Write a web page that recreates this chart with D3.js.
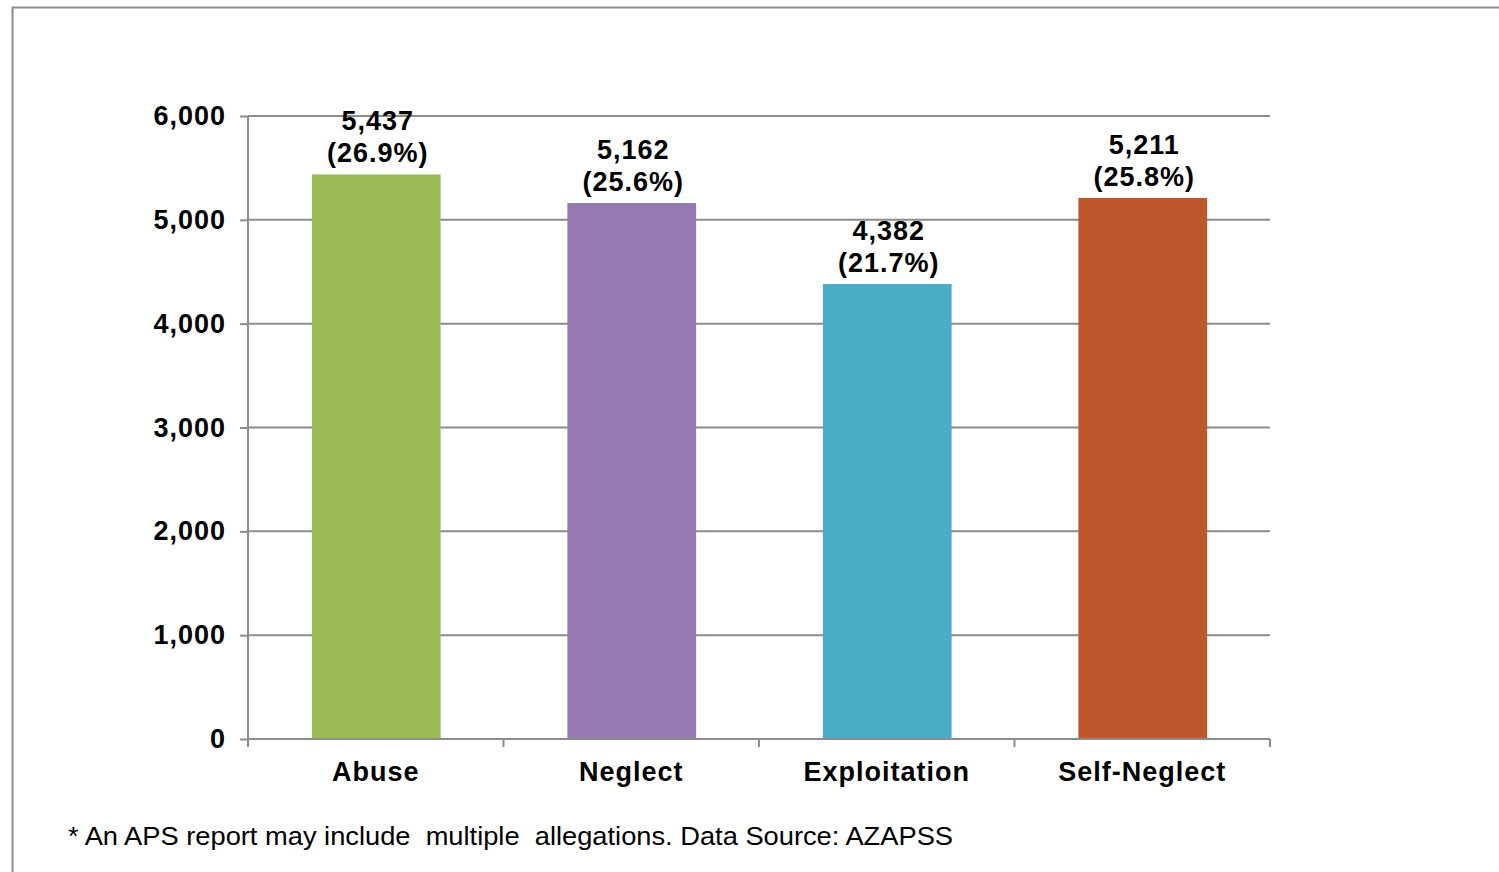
<!DOCTYPE html>
<html>
<head>
<meta charset="utf-8">
<script src="https://cdn.jsdelivr.net/npm/d3@7"></script>
<style>
  html, body { margin: 0; padding: 0; background: #fff; }
  svg { display: block; font-family: "Liberation Sans", Arial, sans-serif; }
</style>
</head>
<body>
<div id="chart"></div>
<script>
// 数据
const categories = ['Abuse', 'Neglect', 'Exploitation', 'Self-Neglect'];
const counts = [5437, 5162, 4382, 5211];
const percents = ['26.9%', '25.6%', '21.7%', '25.8%'];
const barColors = ['#9BBB59', '#957BB1', '#4BACC6', '#BE582C'];
const yTicks = [0, 1000, 2000, 3000, 4000, 5000, 6000];
const footnote = '* An APS report may include  multiple  allegations. Data Source: AZAPSS';

const width = 1499;
const height = 872;
const margin = { top: 116, right: 229, bottom: 133, left: 248 };

const svg = d3.select('#chart')
    .append('svg')
    .attr('width', width)
    .attr('height', height);

// 外框
svg.append('path')
    .attr('d', `M12.5,${height} V7.5 H${width}`)
    .attr('fill', 'none')
    .attr('stroke', '#8c8c8c')
    .attr('stroke-width', 2);

// 比例尺
const xScale = d3.scaleBand()
    .domain(categories)
    .range([margin.left, width - margin.right])
    .paddingInner(0.5)
    .paddingOuter(0.25);

const yScale = d3.scaleLinear()
    .domain([0, 6000])
    .range([height - margin.bottom, margin.top]);

// 网格线
svg.append('g')
    .selectAll('line')
    .data(yTicks.filter(d => d > 0))
    .enter()
    .append('line')
    .attr('x1', margin.left)
    .attr('x2', width - margin.right)
    .attr('y1', d => yScale(d))
    .attr('y2', d => yScale(d))
    .attr('stroke', '#8c8c8c')
    .attr('stroke-width', 2);

// 柱子
svg.append('g')
    .selectAll('rect')
    .data(categories)
    .enter()
    .append('rect')
    .attr('x', d => xScale(d))
    .attr('y', (d, i) => yScale(counts[i]))
    .attr('width', xScale.bandwidth() + 1)
    .attr('height', (d, i) => yScale(0) - yScale(counts[i]))
    .attr('fill', (d, i) => barColors[i]);

// Y轴
const yAxis = svg.append('g')
    .attr('transform', `translate(${margin.left},0)`)
    .call(d3.axisLeft(yScale)
        .tickValues(yTicks)
        .tickSize(8)
        .tickPadding(14)
        .tickFormat(d3.format(',')));

// X轴
const step = xScale.step();
const xEdges = d3.range(categories.length + 1).map(i => margin.left + i * step);
const xAxis = svg.append('g')
    .attr('transform', `translate(0,${yScale(0)})`)
    .call(d3.axisBottom(xScale).tickSize(0).tickPadding(23));

xAxis.selectAll('.edge-tick')
    .data(xEdges)
    .enter()
    .append('line')
    .attr('class', 'edge-tick')
    .attr('x1', d => d)
    .attr('x2', d => d)
    .attr('y1', 0)
    .attr('y2', 8)
    .attr('stroke', '#8c8c8c')
    .attr('stroke-width', 2);

[yAxis, xAxis].forEach(ax => {
    ax.select('.domain').attr('stroke', '#8c8c8c').attr('stroke-width', 2);
    ax.selectAll('.tick line').attr('stroke', '#8c8c8c').attr('stroke-width', 2);
    ax.selectAll('.tick text')
        .attr('fill', '#000')
        .attr('font-size', 27)
        .attr('font-weight', 'bold')
        .attr('letter-spacing', 1)
        .attr('font-family', '"Liberation Sans", Arial, sans-serif');
});
xAxis.select('.domain').attr('d', `M${margin.left},0H${width - margin.right}`);
yAxis.select('.domain').attr('d', `M0,${yScale(6000)}V${yScale(0)}`);

// 数值标签
const labels = svg.append('g')
    .selectAll('text')
    .data(categories)
    .enter()
    .append('text')
    .attr('text-anchor', 'middle')
    .attr('font-size', 27)
    .attr('font-weight', 'bold')
    .attr('letter-spacing', 1)
    .attr('fill', '#000');

labels.append('tspan')
    .attr('x', d => xScale(d) + xScale.bandwidth() / 2 + 2)
    .attr('y', (d, i) => yScale(counts[i]) - 44)
    .text((d, i) => d3.format(',')(counts[i]));

labels.append('tspan')
    .attr('x', d => xScale(d) + xScale.bandwidth() / 2 + 2)
    .attr('y', (d, i) => yScale(counts[i]) - 12)
    .text((d, i) => `(${percents[i]})`);

// 脚注
svg.append('text')
    .attr('x', 68)
    .attr('y', 845)
    .attr('font-size', 26)
    .attr('fill', '#000')
    .attr('textLength', 885)
    .attr('lengthAdjust', 'spacingAndGlyphs')
    .style('white-space', 'pre')
    .text(footnote);
</script>
</body>
</html>
